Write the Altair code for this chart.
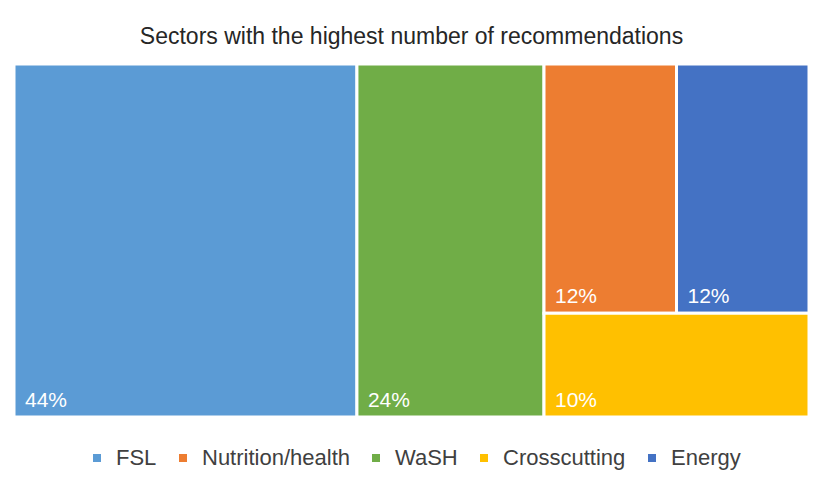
import altair as alt
import pandas as pd

sectors = ["FSL", "Nutrition/health", "WaSH", "Crosscutting", "Energy"]
shares = [44, 12, 24, 10, 12]
colors = ["#5B9BD5", "#ED7D31", "#70AD47", "#FFC000", "#4472C4"]

W, H = 795, 353


def worst(row, side):
    s = sum(row)
    return max(max(side * side * r / (s * s), s * s / (side * side * r)) for r in row)


def squarify(items, x, y, w, h, out):
    items = list(items)
    while items:
        side = min(w, h)
        row = [items[0]]
        i = 1
        while i < len(items):
            cand = row + [items[i]]
            if worst([a for _, a in cand], side) <= worst([a for _, a in row], side):
                row = cand
                i += 1
            else:
                break
        items = items[len(row):]
        s = sum(a for _, a in row)
        if w >= h:
            rw = s / h
            cy = y
            for n, a in row:
                rh = a / rw
                out.append((n, x, x + rw, cy, cy + rh))
                cy += rh
            x += rw
            w -= rw
        else:
            rh = s / w
            cx = x
            for n, a in row:
                rw = a / rh
                out.append((n, cx, cx + rw, y, y + rh))
                cx += rw
            y += rh
            h -= rh
    return out


total = sum(shares)
order = sorted(zip(sectors, shares), key=lambda t: -t[1])
rects = squarify([(n, v / total * W * H) for n, v in order], 0, 0, W, H, [])
lookup = {n: v for n, v in zip(sectors, shares)}
df = pd.DataFrame(
    [
        {"sector": n, "x0": x0 / W, "x1": x1 / W, "y0": y0 / H, "y1": y1 / H,
         "label": f"{lookup[n]}%"}
        for n, x0, x1, y0, y1 in rects
    ]
)

xs = alt.Scale(domain=[0, 1], nice=False, zero=False)
ys = alt.Scale(domain=[1, 0], nice=False, zero=False)

base = alt.Chart(df)
rect = base.mark_rect(stroke="white", strokeWidth=3).encode(
    x=alt.X("x0:Q", scale=xs, axis=None),
    x2="x1:Q",
    y=alt.Y("y0:Q", scale=ys, axis=None),
    y2="y1:Q",
    color=alt.Color(
        "sector:N",
        scale=alt.Scale(domain=sectors, range=colors),
        sort=sectors,
        legend=alt.Legend(
            title=None, orient="none", direction="horizontal",
            legendX=72, legendY=383,
            symbolType="square", symbolSize=64, symbolStrokeWidth=0,
            labelFontSize=22, labelColor="#404040", labelFont="Liberation Sans",
            columnPadding=15, labelOffset=8, padding=0,
        ),
    ),
)
text = base.mark_text(
    align="left", baseline="alphabetic", dx=11, dy=-10, color="white",
    fontSize=21, font="Liberation Sans",
).encode(
    x=alt.X("x0:Q", scale=xs),
    y=alt.Y("y1:Q", scale=ys),
    text="label:N",
)

chart = (
    (rect + text)
    .properties(
        width=W, height=H,
        autosize=alt.AutoSizeParams(type="none"),
        title=alt.TitleParams(
            "Sectors with the highest number of recommendations",
            fontSize=23, font="Liberation Sans", fontWeight="normal",
            color="#262626", anchor="middle", offset=14,
        ),
        padding={"left": 14, "top": 64, "right": 4, "bottom": 79},
    )
    .configure_view(stroke=None)
    .configure(background="white")
)

chart.save("out.html", embed_options={"renderer": "svg", "actions": False})
